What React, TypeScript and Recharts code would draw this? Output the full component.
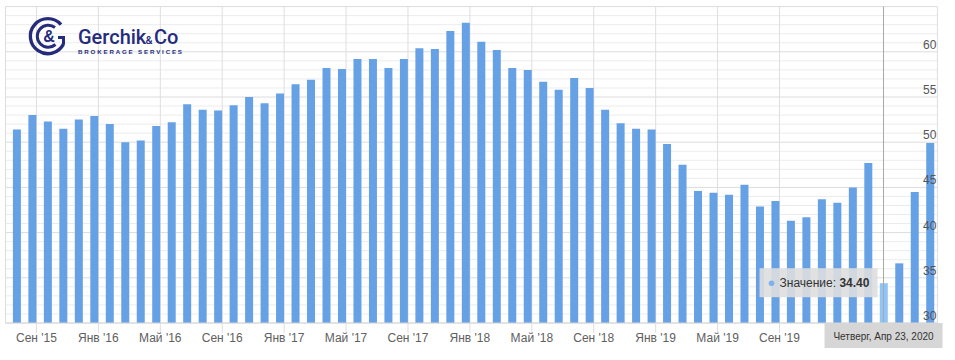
import React from 'react';
import {
  BarChart,
  Bar,
  Cell,
  XAxis,
  YAxis,
  CartesianGrid,
  ReferenceLine,
  ReferenceDot,
} from 'recharts';

// monthly values, Jul '15 .. Jul '20
const values = [
  51.4, 53.0, 52.3, 51.5, 52.5, 52.9, 52.0, 50.0, 50.2, 51.8,
  52.2, 54.2, 53.6, 53.5, 54.1, 55.0, 54.3, 55.4, 56.4, 56.9,
  58.2, 58.1, 59.2, 59.2, 58.2, 59.2, 60.4, 60.3, 62.3, 63.2,
  61.1, 60.2, 58.2, 58.0, 56.7, 55.8, 57.1, 56.0, 53.6, 52.1,
  51.5, 51.4, 49.8, 47.5, 44.6, 44.4, 44.2, 45.3, 42.9, 43.5,
  41.3, 41.7, 43.7, 43.3, 45.0, 47.7, 34.4, 36.6, 44.5, 49.9,
];

// release comes out around the 22nd, so the point sits late in its month
const releaseOffset = 0.72;

const tickMonths = [2, 6, 10, 14, 18, 22, 26, 30, 34, 38, 42, 46, 50];
const tickLabels = [
  "Сен '15", "Янв '16", "Май '16", "Сен '16", "Янв '17", "Май '17", "Сен '17",
  "Янв '18", "Май '18", "Сен '18", "Янв '19", "Май '19", "Сен '19",
];

// labelled ticks every 5, grid line every 1
const yLabels = [30, 35, 40, 45, 50, 55, 60];
const yGrid = [
  30, 31, 32, 33, 34, 35, 36, 37, 38, 39, 40, 41, 42, 43, 44, 45, 46, 47,
  48, 49, 50, 51, 52, 53, 54, 55, 56, 57, 58, 59, 60, 61, 62, 63, 64, 65,
];

const hoverIndex = 56;
const hoverDate = 'Четверг, Апр 23, 2020';
const hoverName = 'Значение';

const chartData = values.map((v, i) => ({ t: i + releaseOffset, v }));

const BAR = '#66a0e5';
const BAR_HOVER = '#8fc4f7';
const NAVY = '#262c7c';

const YTick = (props: any) => {
  const { x, y, payload } = props;
  if (!yLabels.includes(payload.value)) return <g />;
  return (
    <text x={x - 1} y={y - 7} textAnchor="end" dominantBaseline="central" fontSize={12} fill="#555">
      {payload.value}
    </text>
  );
};

const GridRow = (props: any) => {
  const { x1, x2, y1, y2, index } = props;
  const major = index % 5 === 0;
  return <line x1={x1} x2={x2} y1={y1} y2={y2} stroke={major ? '#dcdcdc' : '#ececec'} strokeWidth={1} />;
};

const DateLabel = (props: any) => {
  const { viewBox } = props;
  if (!viewBox) return null;
  const cx = viewBox.x;
  const top = viewBox.y + viewBox.height;
  return (
    <g>
      <rect x={cx - 59} y={top} width={118} height={25} fill="#d6d6d6" />
      <text x={cx} y={top + 13} textAnchor="middle" dominantBaseline="central" fontSize={10} fill="#333">
        {hoverDate}
      </text>
    </g>
  );
};

const TooltipBox = (props: any) => {
  const { cx, cy } = props;
  if (cx == null || cy == null) return null;
  const right = cx - 6;
  const left = right - 118;
  return (
    <g>
      <rect x={left} y={cy - 15} width={118} height={29} fill="rgba(222,222,222,0.9)" />
      <circle cx={left + 12} cy={cy} r={2.8} fill="#7fb2ec" />
      <text x={left + 20} y={cy} dominantBaseline="central" fontSize={12} fill="#333">
        {hoverName}: <tspan fontWeight="bold">{values[hoverIndex].toFixed(2)}</tspan>
      </text>
    </g>
  );
};

const Logo = () => (
  <svg width={200} height={64} style={{ position: 'absolute', left: 0, top: 0 }}>
    <path d="M61 24.6 A17.5 17.5 0 1 0 63.5 44" fill="none" stroke={NAVY} strokeWidth={3.4} />
    <path d="M55 27.5 A11 11 0 1 0 55.5 44.5" fill="none" stroke={NAVY} strokeWidth={3} />
    <path d="M63.5 44.5 L63.5 37.5 L58 37.5" fill="none" stroke={NAVY} strokeWidth={3} />
    <text x={49} y={42} textAnchor="middle" fontSize={16} fontWeight={700} fill={NAVY}>&amp;</text>
    <g fontFamily="Roboto, 'Liberation Sans', sans-serif" fontWeight={500} fill={NAVY}>
      <text x={78} y={43.5} fontSize={20}>Gerchik</text>
      <text x={145.5} y={43.5} fontSize={11}>&amp;</text>
      <text x={154} y={43.5} fontSize={20}>Co</text>
    </g>
    <text x={78} y={54} fontSize={6.2} fontWeight={700} fill={NAVY} textLength={104} lengthAdjust="spacing">
      BROKERAGE SERVICES
    </text>
  </svg>
);

export default function App() {
  return (
    <div
      style={{
        position: 'absolute',
        left: 0,
        top: 0,
        width: 955,
        height: 360,
        background: '#fff',
        fontFamily: '"Liberation Sans", Arial, Helvetica, sans-serif',
      }}
    >
      <BarChart
        width={955}
        height={360}
        data={chartData}
        margin={{ top: 6.6, right: 0, left: 5.5, bottom: 7 }}
      >
        <CartesianGrid stroke="#dedede" horizontal={(p: any) => <GridRow {...p} />} />
        <XAxis
          type="number"
          dataKey="t"
          domain={[0, 60.2]}
          ticks={tickMonths}
          interval={0}
          tickFormatter={(m: number) => tickLabels[tickMonths.indexOf(m)]}
          tickSize={10}
          tickMargin={0}
          tickLine={{ stroke: '#dedede' }}
          axisLine={{ stroke: '#d8d8d8' }}
          tick={{ fontSize: 12, fill: '#606060' }}
          height={30}
        />
        <YAxis
          orientation="right"
          width={17.6}
          domain={[30, 65]}
          ticks={yGrid}
          interval={0}
          axisLine={false}
          tickLine={false}
          tickSize={0}
          tickMargin={0}
          tick={(p: any) => <YTick {...p} />}
        />
        <Bar dataKey="v" barSize={8} isAnimationActive={false}>
          {chartData.map((d, i) => (
            <Cell key={i} fill={i === hoverIndex ? BAR_HOVER : BAR} />
          ))}
        </Bar>
        <ReferenceLine
          x={chartData[hoverIndex].t}
          stroke="#a8a8a8"
          strokeWidth={1}
          label={<DateLabel />}
        />
        <ReferenceDot
          x={chartData[hoverIndex].t}
          y={values[hoverIndex]}
          r={0}
          shape={(p: any) => <TooltipBox {...p} />}
        />
      </BarChart>
      <Logo />
    </div>
  );
}
